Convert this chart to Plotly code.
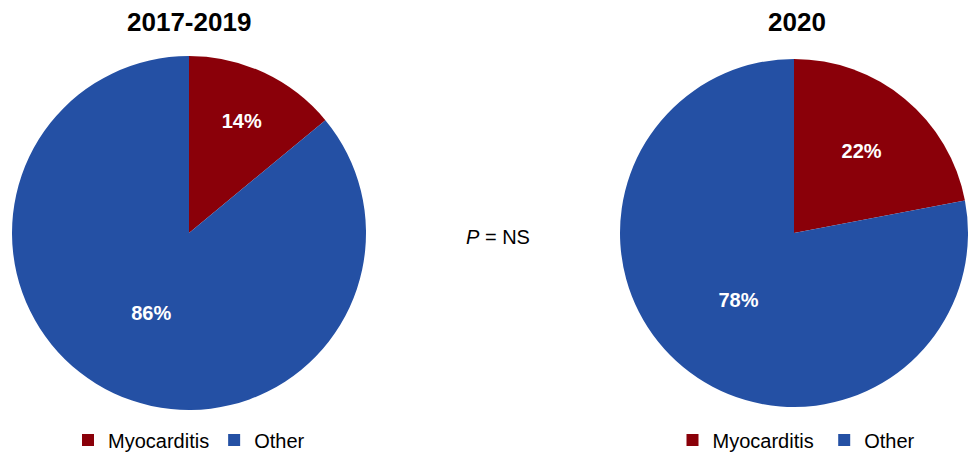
import plotly.graph_objects as go

labels = ["Myocarditis", "Other"]
labels_2020 = ["Myocarditis ", "Other "]  # same text, separate legend entries
values_2017_2019 = [14, 86]
values_2020 = [22, 78]
titles = ["2017-2019", "2020"]
colors = ["#8A0009", "#2450A4"]

W, H = 968, 453
FONT = "Liberation Sans, Arial, sans-serif"

fig = go.Figure()

lx0, lx1 = (189 - 177) / W, (189 + 177) / W
ly0, ly1 = (H - 410) / H, (H - 56) / H
rx0, rx1 = 620 / W, 1.0

common = dict(sort=False, direction="clockwise", rotation=0,
              marker=dict(colors=colors, line=dict(width=0)),
              textinfo="percent", texttemplate="<b>%{percent:.0%}</b>", textposition="inside",
              insidetextorientation="horizontal",
              textfont=dict(color="white", size=20, family=FONT), hoverinfo="label+percent")

fig.add_trace(go.Pie(labels=labels, values=values_2017_2019,
                     domain=dict(x=[lx0, lx1], y=[ly0, ly1]), legend="legend", **common))
fig.add_trace(go.Pie(labels=labels_2020, values=values_2020,
                     domain=dict(x=[rx0, rx1], y=[ly0, ly1]), legend="legend2", **common))

annotations = [
    dict(text="<b>" + titles[0] + "</b>", x=189 / W, y=1 - 22 / H, xref="paper", yref="paper",
         showarrow=False, font=dict(size=26, color="black", family=FONT), xanchor="center", yanchor="middle"),
    dict(text="<b>" + titles[1] + "</b>", x=797 / W, y=1 - 22 / H, xref="paper", yref="paper",
         showarrow=False, font=dict(size=26, color="black", family=FONT), xanchor="center", yanchor="middle"),
    dict(text="<i>P</i> = NS", x=498 / W, y=1 - 237 / H, xref="paper", yref="paper",
         showarrow=False, font=dict(size=20, color="black", family=FONT), xanchor="center", yanchor="middle"),
]

leg_common = dict(orientation="h", yanchor="middle", y=1 - 440 / H, xanchor="center",
                  font=dict(size=20, color="black", family=FONT), bgcolor="rgba(0,0,0,0)",
                  traceorder="normal", itemwidth=30)

fig.update_layout(
    width=W, height=H, margin=dict(l=0, r=0, t=0, b=0, autoexpand=False),
    paper_bgcolor="white", plot_bgcolor="white",
    showlegend=True,
    legend=dict(x=189 / W, **leg_common),
    legend2=dict(x=799 / W, **leg_common),
    annotations=annotations,
    font=dict(family=FONT),
)

fig.write_html("out.html")
